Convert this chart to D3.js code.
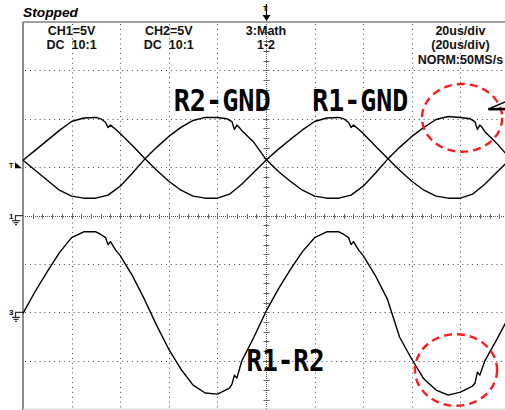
<!DOCTYPE html>
<html>
<head>
<meta charset="utf-8">
<script src="https://cdn.jsdelivr.net/npm/d3@7/dist/d3.min.js"></script>
<style>
body { margin: 0; background: #fff; }
svg { display: block; }
</style>
</head>
<body>
<div id="scope"></div>
<script>
// samples: [time in us, level in V]
var r1Gnd = [
    [-100, 5.71], [-95, 6.74], [-90, 7.77], [-85, 8.80], [-80, 9.72], [-75, 10.08], [-70, 10.14],
    [-68, 10.0], [-66, 9.62], [-65, 9.10], [-64, 9.35], [-62, 8.95], [-60, 8.49], [-55, 7.25],
    [-50, 5.92], [-45, 4.68], [-40, 3.55], [-35, 2.62], [-30, 2.01], [-25, 1.80], [-20, 1.80],
    [-15, 2.21], [-10, 3.24], [-5, 4.48], [0, 5.71], [5, 6.84], [10, 7.87], [15, 8.85],
    [20, 9.72], [25, 10.08], [30, 10.14], [32, 10.0], [34, 9.62], [35, 9.10], [36, 9.35],
    [38, 8.95], [40, 8.49], [45, 7.20], [50, 5.92], [55, 4.68], [60, 3.55], [65, 2.62],
    [70, 2.01], [75, 1.80], [80, 1.80], [85, 2.21], [90, 3.24], [95, 4.48], [100, 5.71]
];
var r2Gnd = [
    [-100, 5.71], [-95, 4.68], [-90, 3.65], [-85, 2.62], [-80, 2.01], [-75, 1.80], [-70, 1.80],
    [-65, 2.11], [-60, 3.04], [-55, 4.37], [-50, 5.81], [-45, 7.05], [-40, 8.18], [-35, 9.11],
    [-30, 9.83], [-25, 10.14], [-20, 10.14], [-16, 10.0], [-14, 9.70], [-13, 8.90], [-12, 9.35],
    [-11, 9.10], [-10, 8.80], [-5, 7.57], [0, 5.81], [5, 4.58], [10, 3.55], [15, 2.62],
    [20, 2.01], [25, 1.80], [30, 1.80], [35, 2.11], [40, 3.04], [45, 4.37], [50, 5.81],
    [55, 7.05], [60, 8.18], [65, 9.11], [70, 9.93], [75, 10.24], [80, 10.14], [84, 10.0],
    [86, 9.70], [87, 8.90], [88, 9.35], [89, 9.10], [90, 8.70], [95, 7.46], [100, 6.02]
];
var r1MinusR2 = [
    [-100, -0.10], [-95, 2.16], [-90, 4.22], [-85, 6.17], [-80, 7.72], [-75, 8.33], [-70, 8.33],
    [-68, 8.05], [-66, 7.72], [-65, 7.00], [-64, 7.31], [-62, 6.48], [-60, 5.87], [-55, 3.81],
    [-50, 1.34], [-45, -1.34], [-40, -3.81], [-35, -5.87], [-30, -7.51], [-25, -8.33], [-20, -8.44],
    [-15, -7.82], [-14, -7.40], [-13, -6.48], [-12, -6.79], [-10, -5.04], [-5, -2.57], [0, 0.10],
    [5, 2.37], [10, 4.42], [15, 6.28], [20, 7.72], [25, 8.33], [30, 8.33], [32, 8.05],
    [34, 7.72], [35, 7.00], [36, 7.31], [38, 6.48], [40, 5.87], [45, 3.81], [50, 1.34],
    [55, -2.57], [60, -4.84], [65, -6.89], [70, -8.02], [75, -8.54], [80, -8.23], [85, -7.61],
    [86, -7.30], [87, -6.17], [88, -6.48], [90, -5.04], [95, -2.78], [100, -0.41]
];

var headerRow1 = ["CH1=5V", "CH2=5V", "3:Math", "20us/div"];
var headerRow2 = ["DC  10:1", "DC  10:1", "1-2", "(20us/div)"];
var headerRow3 = ["", "", "", "NORM:50MS/s"];
var headerColumns = [-80, -40, 0, 80];   // us, grid line the text is centred on
var traceNames = ["R2-GND", "R1-GND", "R1-R2"];

var xDivs = d3.range(-100, 101, 20);   // 20us/div
var yDivs = d3.range(-20, 21, 5);      // 5V/div
var trigLevel = 5.2;
var mathGround = -10;

function makeScope(div, width, height) {
    var svg = d3.select(div).append("svg").attr("width", width).attr("height", height);

    var x = d3.scaleLinear().domain([-100, 100]).range([23, 509]);
    var y = d3.scaleLinear().domain([-20, 20]).range([409.2, 22]);
    var px = function(v) { return Math.round(v) + 0.5; };

    // dotted graticule
    var grid = svg.append("g").attr("class", "grid");
    grid.selectAll("line.v")
        .data(xDivs.filter(function(d) { return d != -100 && d != 0 && d != 100; }))
        .enter().append("line")
        .attr("x1", function(d) { return px(x(d)); }).attr("x2", function(d) { return px(x(d)); })
        .attr("y1", y(20) + 2).attr("y2", y(-20))
        .attr("stroke", "#444").attr("stroke-dasharray", "1,3.84");
    grid.selectAll("line.h")
        .data(yDivs.filter(function(d) { return d != -20 && d != 0 && d != 20; }))
        .enter().append("line")
        .attr("y1", function(d) { return px(y(d)); }).attr("y2", function(d) { return px(y(d)); })
        .attr("x1", x(-100) + 2).attr("x2", width)
        .attr("stroke", "#444").attr("stroke-dasharray", "1,3.86");

    // centre lines with minor ticks
    var cx = px(x(0)), cy = px(y(0));
    grid.append("line").attr("x1", cx).attr("x2", cx).attr("y1", y(20)).attr("y2", y(-20))
        .attr("stroke", "#555").attr("stroke-dasharray", "1,1");
    grid.append("line").attr("y1", cy).attr("y2", cy).attr("x1", x(-100) + 2).attr("x2", width)
        .attr("stroke", "#555").attr("stroke-dasharray", "1,1");
    grid.selectAll("line.tx")
        .data(d3.range(-96, 100, 4))
        .enter().append("line")
        .attr("x1", function(d) { return px(x(d)); }).attr("x2", function(d) { return px(x(d)); })
        .attr("y1", cy - 2.5).attr("y2", cy + 2.5)
        .attr("stroke", "#666");
    grid.selectAll("line.ty")
        .data(d3.range(-19, 20, 1))
        .enter().append("line")
        .attr("y1", function(d) { return px(y(d)); }).attr("y2", function(d) { return px(y(d)); })
        .attr("x1", cx - 3).attr("x2", cx + 3)
        .attr("stroke", "#666");

    // screen frame
    svg.append("line").attr("x1", x(-100)).attr("x2", width).attr("y1", y(20)).attr("y2", y(20))
        .attr("stroke", "#808080").attr("stroke-width", 1.6);
    svg.append("line").attr("x1", x(-100)).attr("x2", x(-100)).attr("y1", y(20)).attr("y2", height)
        .attr("stroke", "#808080").attr("stroke-width", 1.8);
    svg.append("line").attr("x1", x(-100)).attr("x2", width).attr("y1", y(-20)).attr("y2", y(-20))
        .attr("stroke", "#cfcfcf").attr("stroke-width", 1);

    // header texts
    svg.append("text").text("Stopped")
        .attr("x", 23).attr("y", 17)
        .attr("font-family", "Liberation Sans, Arial, sans-serif")
        .attr("font-size", 12.5).attr("font-weight", "bold").attr("font-style", "italic")
        .attr("textLength", 55).attr("lengthAdjust", "spacingAndGlyphs");
    var rows = [headerRow1, headerRow2, headerRow3];
    var rowY = [35, 49, 64];
    rows.forEach(function(row, i) {
        svg.append("g").selectAll("text")
            .data(row)
            .enter().append("text")
            .attr("x", function(d, j) { return x(headerColumns[j]); })
            .attr("y", rowY[i])
            .attr("text-anchor", "middle")
            .attr("font-family", "Liberation Sans, Arial, sans-serif")
            .attr("font-size", 12.5).attr("font-weight", "bold")
            .attr("fill", "#111")
            .attr("xml:space", "preserve")
            .style("white-space", "pre")
            .text(function(d) { return d; });
    });

    // side markers
    var mk = svg.append("g").attr("font-family", "Liberation Sans, Arial, sans-serif")
        .attr("font-size", 8).attr("font-weight", "bold");
    var ty = y(trigLevel);
    mk.append("text").text("T").attr("x", 9).attr("y", ty + 2.5).attr("font-size", 7);
    mk.append("path").attr("d", "M15," + (ty + 3) + "L22," + (ty + 3) + "L15," + (ty - 3) + "Z").attr("fill", "#000");
    [[0, "1"], [mathGround, "3"]].forEach(function(g) {
        var gy = y(g[0]);
        mk.append("text").text(g[1]).attr("x", 9).attr("y", gy + 3);
        mk.append("path")
            .attr("d", "M23," + gy + "H15.5V" + (gy + 5) + "M12," + (gy + 5) + "H20M13.5," + (gy + 7) + "H18.5M15," + (gy + 9) + "H17")
            .attr("stroke", "#333").attr("stroke-width", 1.2).attr("fill", "none");
    });
    // trigger position
    var tx = x(0);
    mk.append("text").text("T").attr("x", tx - 3).attr("y", 11).attr("font-size", 7);
    mk.append("path").attr("d", "M" + (tx + 0.5) + ",4V16").attr("stroke", "#000").attr("stroke-width", 1.2);
    mk.append("path").attr("d", "M" + (tx - 3.5) + ",15H" + (tx + 4.5) + "L" + (tx + 0.5) + ",21Z").attr("fill", "#000");

    // traces
    var line = d3.line()
        .x(function(d) { return x(d[0]); })
        .y(function(d) { return y(d[1]); });
    var mathLine = d3.line()
        .x(function(d) { return x(d[0]); })
        .y(function(d) { return y(d[1] + mathGround); });
    var traces = svg.append("g").attr("fill", "none").attr("stroke", "#000")
        .attr("stroke-width", 1.4).attr("stroke-linejoin", "round");
    traces.append("path").attr("d", line(r1Gnd));
    traces.append("path").attr("d", line(r2Gnd));
    traces.append("path").attr("d", mathLine(r1MinusR2));

    // big labels
    var labelPos = [[-38, 10.8, 97], [19, 10.8, 96], [-8, -16.1, 78]];
    svg.append("g").selectAll("text")
        .data(traceNames)
        .enter().append("text")
        .attr("x", function(d, i) { return x(labelPos[i][0]); })
        .attr("y", function(d, i) { return y(labelPos[i][1]); })
        .attr("font-family", "DejaVu Sans Mono, monospace")
        .attr("font-size", 30).attr("font-weight", "bold")
        .attr("textLength", function(d, i) { return labelPos[i][2]; })
        .attr("lengthAdjust", "spacingAndGlyphs")
        .text(function(d) { return d; });

    // red marks round the glitches
    var marks = [[80.7, 10.1, 16.5, 3.5], [78.2, -15.95, 16.9, 3.7]];
    svg.append("g").selectAll("ellipse")
        .data(marks)
        .enter().append("ellipse")
        .attr("cx", function(d) { return x(d[0]); })
        .attr("cy", function(d) { return y(d[1]); })
        .attr("rx", function(d) { return x(d[2]) - x(0); })
        .attr("ry", function(d) { return y(0) - y(d[3]); })
        .attr("fill", "none").attr("stroke", "#ff1a1a").attr("stroke-width", 2.4)
        .attr("stroke-dasharray", "8,5");

    // arrow at top right
    svg.append("path")
        .attr("d", "M" + x(91.5) + "," + y(11.0) + "L" + width + "," + y(11.0))
        .attr("stroke", "#000").attr("stroke-width", 2.6).attr("fill", "none");
    svg.append("path")
        .attr("d", "M" + x(91.5) + "," + y(11.0) + "L" + width + "," + y(11.75))
        .attr("stroke", "#000").attr("stroke-width", 1.5).attr("fill", "none");

    return;
}

makeScope("#scope", 505, 410);
</script>
</body>
</html>
